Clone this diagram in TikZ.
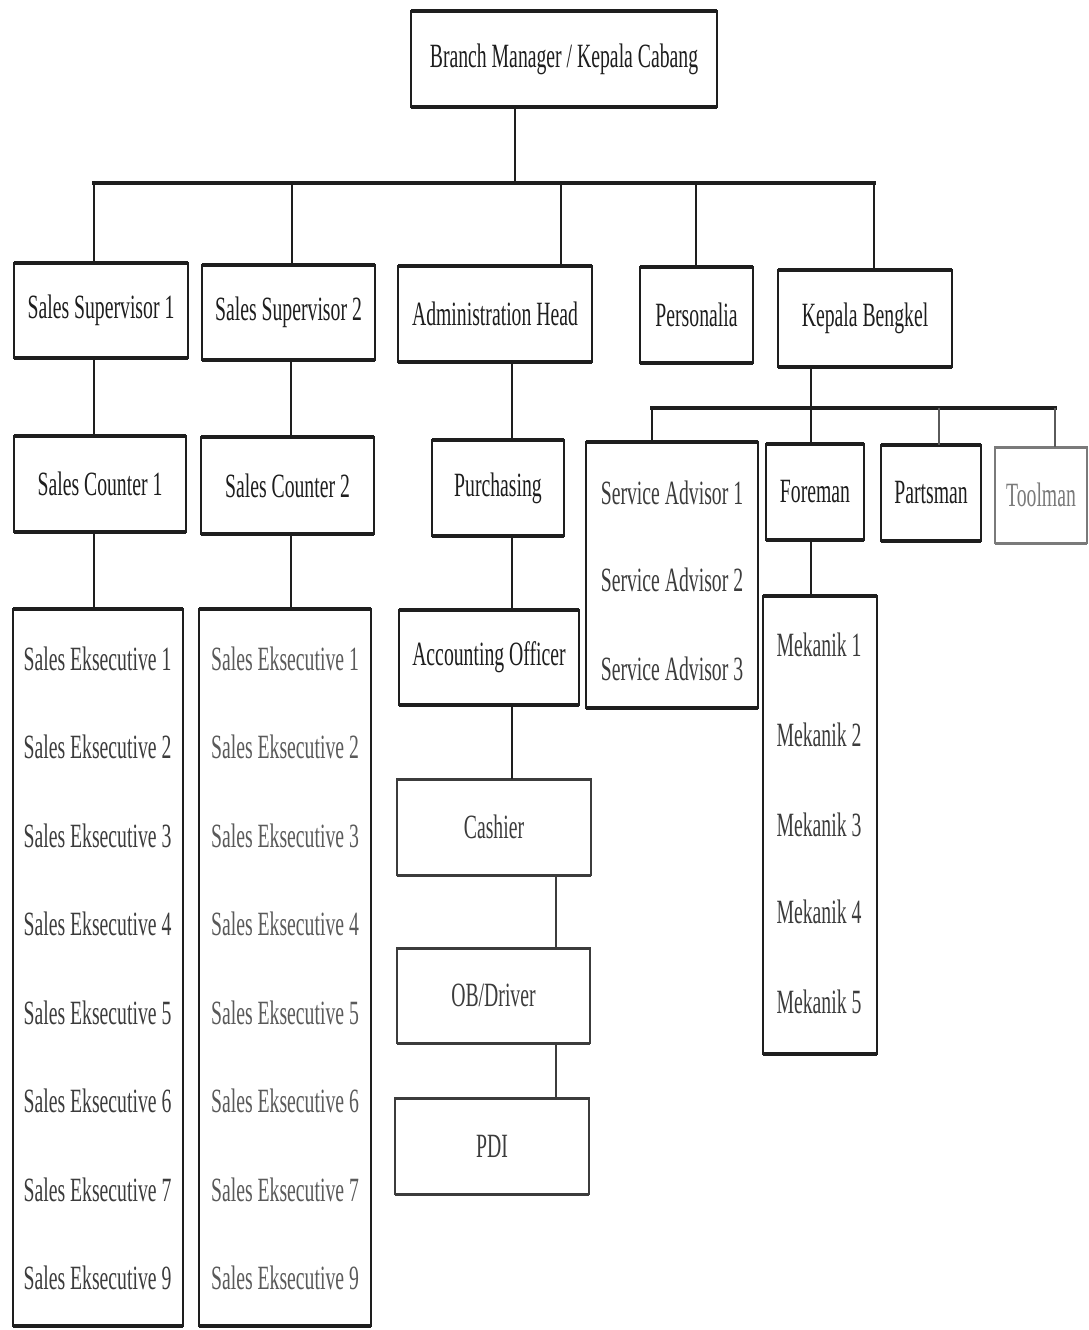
\documentclass[tikz,border=0pt]{standalone}
\usepackage{fontspec}
\setmainfont{Liberation Serif}[FakeStretch=0.58]
\definecolor{ink}{HTML}{1E1E1E}
\definecolor{fade}{HTML}{3C3C3C}
\definecolor{fadeB}{HTML}{5A5A5A}
\definecolor{fadeC}{HTML}{7A7A7A}
\begin{document}
\begin{tikzpicture}[x=1pt,y=-1pt,
  box/.style={draw=ink, line width=2pt, inner sep=0pt, outer sep=0pt,
    font=\fontsize{34}{40}\selectfont, text=ink},
  lbl/.style={inner sep=0pt, font=\fontsize{34}{40}\selectfont, text=ink},
  link/.style={draw=ink, line width=2.4pt},
  bus/.style={draw=ink, line width=4pt, line cap=rect},
  edge/.style={draw=ink, line width=3.6pt}]
\fill[white] (0,0) rectangle (1089,1330);
\useasboundingbox (0,0) rectangle (1089,1330);

% boxes
\node[box, minimum width=306pt, minimum height=96pt] (bm) at (564,59) {Branch Manager / Kepala Cabang};
\node[box, minimum width=174pt, minimum height=95pt] (ss1) at (101,310.5) {Sales Supervisor 1};
\node[box, minimum width=173pt, minimum height=95pt] (ss2) at (288.5,312.5) {Sales Supervisor 2};
\node[box, minimum width=194pt, minimum height=96pt] (adm) at (495,314) {Administration Head};
\node[box, minimum width=113pt, minimum height=96pt] (pers) at (696.5,315) {Personalia};
\node[box, minimum width=174pt, minimum height=97pt] (kb) at (865,318.5) {Kepala Bengkel};
\node[box, minimum width=172pt, minimum height=96pt] (sc1) at (100,484) {Sales Counter 1};
\node[box, minimum width=173pt, minimum height=97pt] (sc2) at (287.5,485.5) {Sales Counter 2};
\node[box, minimum width=132pt, minimum height=96pt] (pur) at (498,488) {Purchasing};
\node[box, minimum width=172pt, minimum height=266pt] (sa) at (672,575) {};
\node[box, minimum width=98pt, minimum height=96pt] (fore) at (815,492) {Foreman};
\node[box, minimum width=100pt, minimum height=96pt] (parts) at (931,493) {Partsman};
\node[box, draw=fadeC, text=fadeC, minimum width=92pt, minimum height=96pt] (tool) at (1041,495) {Toolman};
\node[box, minimum width=170pt, minimum height=717pt] (se1) at (98,967.5) {};
\node[box, minimum width=172pt, minimum height=717pt] (se2) at (285,967.5) {};
\node[box, minimum width=180pt, minimum height=95pt] (acc) at (489,657.5) {Accounting Officer};
\node[box, draw=fade, text=fade, minimum width=194pt, minimum height=96pt] (cash) at (494,827) {Cashier};
\node[box, draw=fade, text=fade, minimum width=193pt, minimum height=95pt] (ob) at (493.5,995.5) {OB/Driver};
\node[box, draw=fade, text=fade, minimum width=194pt, minimum height=96pt] (pdi) at (492,1146) {PDI};
\node[box, minimum width=114pt, minimum height=458pt] (mek) at (820,825) {};

% thick top and bottom edges
\foreach \n in {bm,ss1,ss2,adm,pers,kb,sc1,sc2,pur,sa,fore,parts,se1,se2,acc,mek}
  \draw[edge] (\n.north west) -- (\n.north east) (\n.south west) -- (\n.south east);
\foreach \n in {cash,ob,pdi}
  \draw[edge, draw=fade, line width=3pt] (\n.north west) -- (\n.north east) (\n.south west) -- (\n.south east);
\draw[edge, draw=fadeC, line width=3pt] (tool.north west) -- (tool.north east) (tool.south west) -- (tool.south east);

% list entries
\foreach \t/\y [count=\i] in {1/659,2/747,3/836,4/924,5/1013,6/1101,7/1190,9/1278}{
  \node[lbl, text=fade] (sea\i) at (97.5,\y) {Sales Eksecutive \t};
  \node[lbl, text=fadeB] (seb\i) at (285,\y) {Sales Eksecutive \t};
}
\foreach \t/\y in {1/493,2/580,3/669}
  \node[lbl, text=fade] (sat\t) at (672,\y) {Service Advisor \t};
\foreach \t/\y in {1/645,2/735,3/825,4/912,5/1002}
  \node[lbl, text=fade] (mk\t) at (819,\y) {Mekanik \t};

% bus coordinates
\coordinate (bt) at (515,183);
\coordinate (b1) at (94,183);
\coordinate (b2) at (292,183);
\coordinate (b3) at (561,183);
\coordinate (b4) at (696,183);
\coordinate (b5) at (874,183);
\coordinate (kbx) at (811,408);
\coordinate (s1) at (652,408);
\coordinate (s3) at (939,408);
\coordinate (s4) at (1055,408);
\coordinate (ca) at (291,0);
\coordinate (cp) at (512,0);
\coordinate (cq) at (556,0);

% connectors
\draw[link] (bt |- bm.south) -- (bt);
\draw[bus] (b1) -- (b5);
\draw[link] (b1) -- (b1 |- ss1.north);
\draw[link] (b2) -- (b2 |- ss2.north);
\draw[link] (b3) -- (b3 |- adm.north);
\draw[link] (b4) -- (b4 |- pers.north);
\draw[link] (b5) -- (b5 |- kb.north);

\draw[link] (b1 |- ss1.south) -- (b1 |- sc1.north);
\draw[link] (b1 |- sc1.south) -- (b1 |- se1.north);
\draw[link] (ca |- ss2.south) -- (ca |- sc2.north);
\draw[link] (ca |- sc2.south) -- (ca |- se2.north);

\draw[link] (cp |- adm.south) -- (cp |- pur.north);
\draw[link] (cp |- pur.south) -- (cp |- acc.north);
\draw[link] (cp |- acc.south) -- (cp |- cash.north);
\draw[link, draw=fade] (cq |- cash.south) -- (cq |- ob.north);
\draw[link, draw=fade] (cq |- ob.south) -- (cq |- pdi.north);

\draw[link] (kbx |- kb.south) -- (kbx);
\draw[bus, line width=3.6pt] (s1) -- (s4);
\draw[link] (s1) -- (s1 |- sa.north);
\draw[link] (kbx) -- (kbx |- fore.north);
\draw[link, draw=fadeB] (s3) -- (s3 |- parts.north);
\draw[link, draw=fadeB] (s4) -- (s4 |- tool.north);
\draw[link] (kbx |- fore.south) -- (kbx |- mek.north);
\end{tikzpicture}
\end{document}
